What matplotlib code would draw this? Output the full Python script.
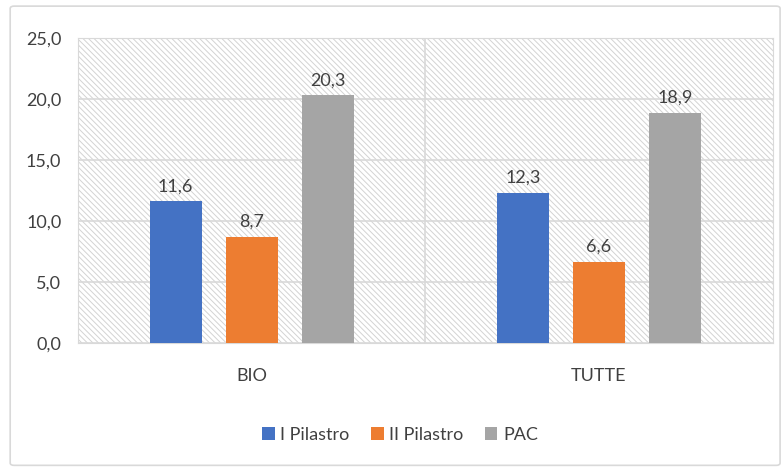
import matplotlib.pyplot as plt
import matplotlib.patches as mpatches
import numpy as np

categories = ['BIO', 'TUTTE']
series = ['I Pilastro', 'II Pilastro', 'PAC']
values = {
    'I Pilastro': [11.6, 12.3],
    'II Pilastro': [8.7, 6.6],
    'PAC': [20.3, 18.9],
}
colors = ['#4472C4', '#ED7D31', '#A5A5A5']
yticks = [0, 5, 10, 15, 20, 25]

plt.rcParams['font.family'] = ['Lato', 'DejaVu Sans']
plt.rcParams['hatch.linewidth'] = 0.7

fig = plt.figure(figsize=(7.84, 4.71), dpi=100)
fig.patches.append(mpatches.FancyBboxPatch(
    (0.013, 0.012), 0.982, 0.975, boxstyle='round,pad=0,rounding_size=0.005',
    transform=fig.transFigure, facecolor='white', edgecolor='#d9d9d9', lw=1.2,
    zorder=-10))

ax = fig.add_axes([0.0995, 0.272, 0.886, 0.647])
ax.patch.set_facecolor('white')
# hatched background of the plot area
ax.add_patch(mpatches.Rectangle((0, 0), 1, 1, transform=ax.transAxes,
                                facecolor='white', edgecolor='#d3d3d3',
                                hatch='\\' * 6, lw=0, zorder=0))

x = np.arange(len(categories))
w = 0.15
offsets = [-0.219, 0, 0.219]
for s, c, o in zip(series, colors, offsets):
    bars = ax.bar(x + o, values[s], w, color=c, label=s, zorder=3)
    for b, v in zip(bars, values[s]):
        ax.text(b.get_x() + b.get_width() / 2, v + 0.6, f'{v:.1f}'.replace('.', ','),
                ha='center', va='bottom', fontsize=13, color='#404040')

ax.set_xlim(-0.5, 1.5)
ax.set_ylim(0, 25)
ax.set_yticks(yticks)
ax.set_yticklabels([f'{t:.1f}'.replace('.', ',') for t in yticks])
ax.set_xticks(x)
ax.set_xticklabels(categories)
ax.tick_params(length=0, labelsize=13, colors='#404040')
ax.tick_params(axis='x', pad=18)
ax.tick_params(axis='y', pad=12)
ax.grid(axis='y', color='#d9d9d9', lw=1.2, zorder=1)
ax.set_axisbelow(False)
ax.axvline(0.5, color='#d9d9d9', lw=1.2, zorder=1)
for sp in ax.spines.values():
    sp.set_color('#d9d9d9')

fig.legend(loc='center', bbox_to_anchor=(0.51, 0.077), ncol=3, frameon=False,
           fontsize=13, handlelength=0.7, handleheight=0.7, handletextpad=0.3,
           columnspacing=1.2, labelcolor='#404040')

fig.savefig('out.png', dpi=100)
